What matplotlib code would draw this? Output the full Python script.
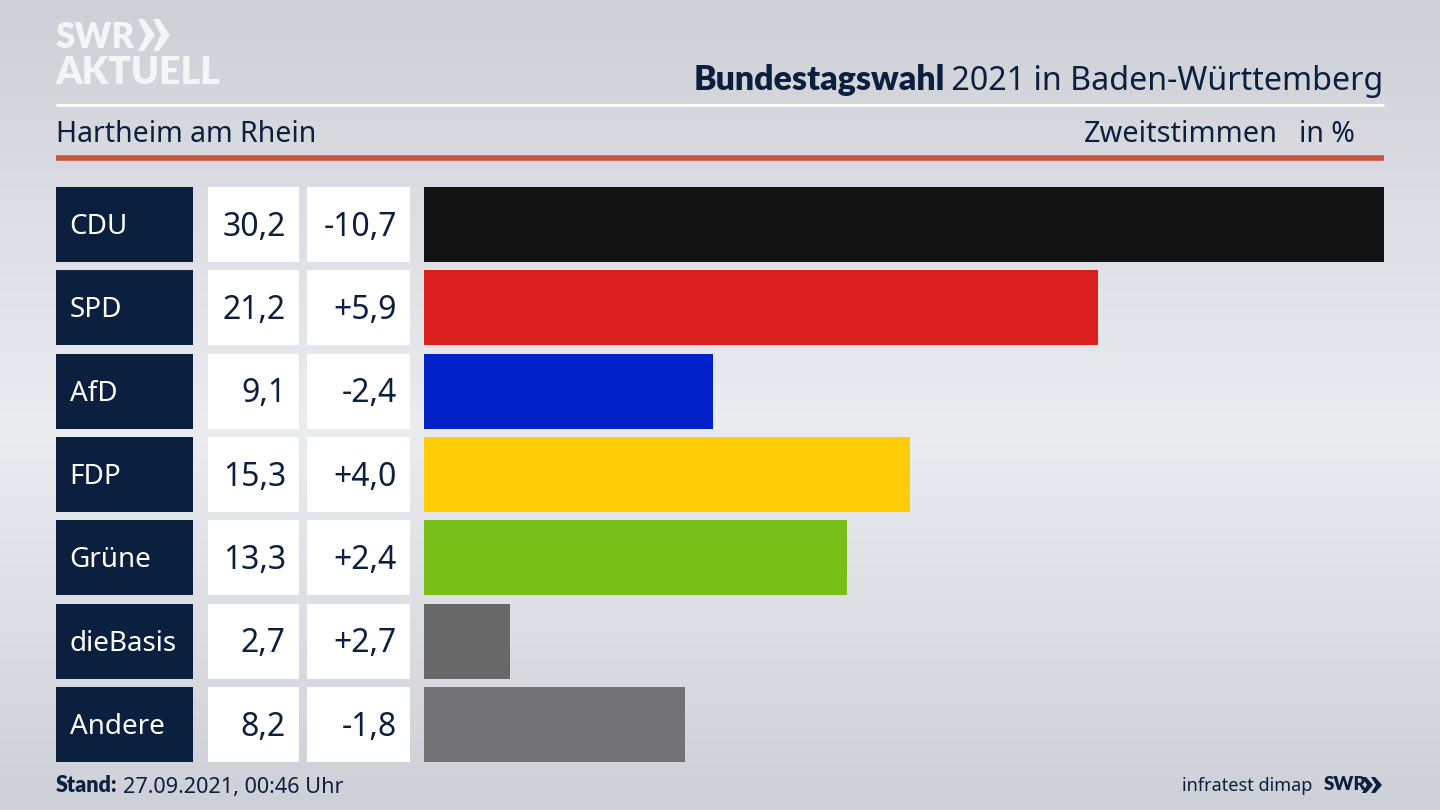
import numpy as np
import matplotlib
matplotlib.use("Agg")
import matplotlib.pyplot as plt
from matplotlib.patches import Polygon

parties = ["CDU", "SPD", "AfD", "FDP", "Grüne", "dieBasis", "Andere"]
shares = [30.2, 21.2, 9.1, 15.3, 13.3, 2.7, 8.2]
changes = ["-10,7", "+5,9", "-2,4", "+4,0", "+2,4", "+2,7", "-1,8"]
colors = ["#131313", "#da201f", "#0021c8", "#ffcc08", "#79bd19", "#686868", "#737375"]

navy = "#0b1f3f"
plt.rcParams["font.family"] = ["Noto Sans", "DejaVu Sans"]
bold = dict(family="Lato", fontweight="heavy")

W, H = 1440, 810
fig = plt.figure(figsize=(W / 100, H / 100), dpi=100)


def px_axes(x0, y0, x1, y1):
    return fig.add_axes([x0 / W, 1 - y1 / H, (x1 - x0) / W, (y1 - y0) / H])


# background gradient
bg = px_axes(0, 0, W, H)
grad = np.interp(np.linspace(0, 1, 256), [0, 0.53, 1], [0, 1, 0])
bg.imshow(grad[:, None], aspect="auto", extent=(0, W, H, 0), vmin=0, vmax=1,
          cmap=matplotlib.colors.LinearSegmentedColormap.from_list("bg", ["#cdd0d6", "#ebecf0"]))
bg.set_xlim(0, W)
bg.set_ylim(H, 0)
bg.axis("off")

# header lines
bg.plot([56, 1384], [105, 105], color="white", lw=2.2, solid_capstyle="butt")
bg.plot([56, 1384], [157.5, 157.5], color="#cb5340", lw=4, solid_capstyle="butt")

# logo
bg.text(55, 37, "SWR", color="#f4f5f7", fontsize=25, va="center", ha="left", **bold)
bg.text(55, 73, "AKTUELL", color="#f4f5f7", fontsize=27, va="center", ha="left", **bold)
for x in (138, 153):
    bg.add_patch(Polygon([(x, 19), (x + 6, 19), (x + 17, 35), (x + 6, 51), (x, 51), (x + 8, 35)],
                         color="#f4f5f7", lw=0))

# header texts
fig.canvas.draw()
rend = fig.canvas.get_renderer()
t2 = bg.text(1383, 81, " 2021 in Baden-Württemberg", color=navy, fontsize=23.2, ha="right", va="center")
w2 = t2.get_window_extent(rend).width
bg.text(1383 - w2 + 2, 80, "Bundestagswahl", color=navy, fontsize=24.4, ha="right", va="center", **bold)
bg.text(56, 134, "Hartheim am Rhein", color=navy, fontsize=20.5, ha="left", va="center")
bg.text(1278, 134, "Zweitstimmen", color=navy, fontsize=20.8, ha="right", va="center")
bg.text(1355, 134, "in %", color=navy, fontsize=20.5, ha="right", va="center")

# footer
t3 = bg.text(56, 786, "Stand:", color=navy, fontsize=15.5, ha="left", va="center", **bold)
w3 = t3.get_window_extent(rend).width
bg.text(56 + w3 + 5, 787, "27.09.2021, 00:46 Uhr", color=navy, fontsize=15.6, ha="left", va="center")
bg.text(1312, 786, "infratest dimap", color=navy, fontsize=13, ha="right", va="center")
bg.text(1324, 785, "SWR", color=navy, fontsize=13.5, ha="left", va="center", **bold)
for x in (1362, 1371):
    bg.add_patch(Polygon([(x, 777), (x + 4, 777), (x + 11, 785), (x + 4, 793), (x, 793), (x + 5, 785)],
                         color=navy, lw=0))

# table columns and bars share one row scale
top, bottom = 187, 762
ypos = np.arange(len(parties))
ylim = (len(parties) - 1 + 0.45, -0.45)


def column(x0, x1, xmax=1.0):
    ax = px_axes(x0, top, x1, bottom)
    ax.set_xlim(0, xmax)
    ax.set_ylim(*ylim)
    ax.axis("off")
    ax.patch.set_alpha(0)
    return ax


ax_name = column(56, 193)
ax_share = column(208, 299)
ax_change = column(307, 410)
ax_bars = column(424, 1384, max(shares))

ax_name.barh(ypos, [1] * len(parties), height=0.9, color=navy)
ax_share.barh(ypos, [1] * len(parties), height=0.9, color="white")
ax_change.barh(ypos, [1] * len(parties), height=0.9, color="white")
ax_bars.barh(ypos, shares, height=0.9, color=colors)

for i in ypos:
    ax_name.text(13.5 / 137, i + 0.03, parties[i], color="white", fontsize=20, ha="left", va="center")
    ax_share.text(78 / 91, i + 0.03, f"{shares[i]:.1f}".replace(".", ","), color=navy,
                  fontsize=23, ha="right", va="center")
    ax_change.text(90 / 103, i + 0.03, changes[i], color=navy, fontsize=23, ha="right", va="center")

fig.savefig("out.png", dpi=100)
